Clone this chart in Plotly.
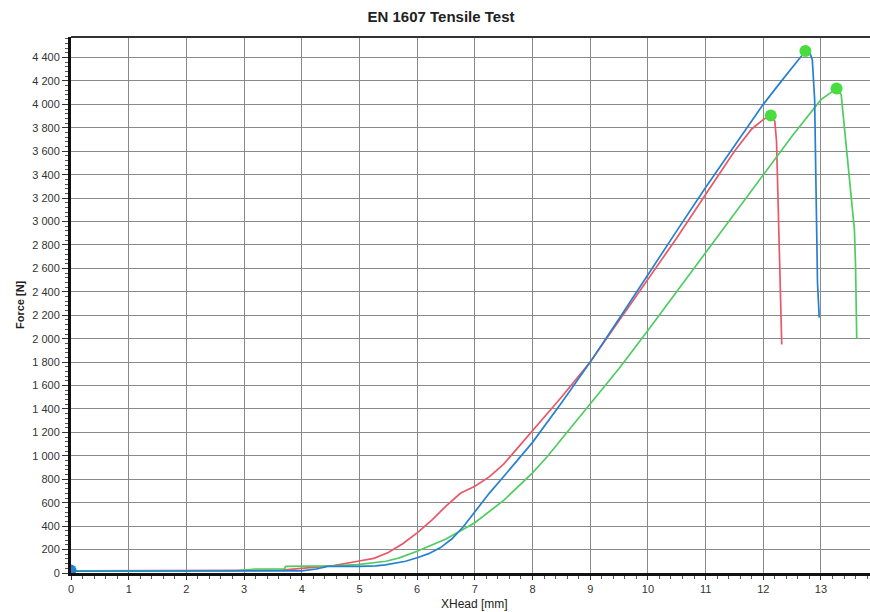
import plotly.graph_objects as go

# ---- data ----
red_x = [0, 1, 2, 3, 3.65, 4.0, 4.55, 4.97, 5.25, 5.5, 5.75, 6.0, 6.25, 6.5, 6.75, 7.0, 7.25, 7.5, 7.75, 8.0,
         8.5, 9.0, 9.5, 10.0, 10.5, 11.0, 11.5, 11.8, 12.0, 12.13,
         12.2, 12.23, 12.25, 12.27, 12.28, 12.32]
red_y = [18, 18, 20, 22, 25, 40, 63, 100, 125, 175, 250, 343, 450, 571, 680, 740, 820, 929, 1070, 1215,
         1500, 1800, 2150, 2500, 2860, 3230, 3600, 3790, 3870, 3910,
         3855, 3683, 3300, 2900, 2600, 1950]

blue_x = [0, 1, 2, 3, 4, 4.25, 4.45, 5.0, 5.28, 5.45, 5.8, 6.0, 6.2, 6.4, 6.6, 6.8, 7.0, 7.25, 7.5, 8.0, 8.5, 9.0,
          9.5, 10.0, 10.5, 11.0, 11.5, 12.0, 12.3, 12.6, 12.73,
          12.80, 12.85, 12.89, 12.91, 12.92, 12.93, 12.94, 12.97]
blue_y = [15, 15, 16, 17, 18, 34, 57, 57, 60, 69, 100, 130, 165, 215, 290, 395, 520, 680, 824, 1115, 1450, 1800,
          2170, 2550, 2920, 3290, 3650, 4000, 4190, 4380, 4455,
          4450, 4380, 4045, 3490, 2930, 2710, 2480, 2180]

green_x = [0, 1, 2, 2.9, 3.2, 3.7, 3.72, 4.0, 4.55, 4.97, 5.46, 5.69, 6.0, 6.5, 7.0, 7.5, 7.75, 8.0, 8.25, 8.5, 9.0,
           9.5, 10.0, 10.5, 11.0, 11.5, 12.0, 12.5, 13.0, 13.2, 13.27,
           13.35, 13.45, 13.54, 13.58, 13.60, 13.62]
green_y = [18, 18, 19, 20, 34, 34, 57, 58, 60, 71, 100, 129, 185, 290, 429, 620, 735, 855, 990, 1140, 1444,
           1745, 2070, 2400, 2735, 3070, 3400, 3730, 4040, 4110, 4135,
           4085, 3600, 3170, 2930, 2610, 2000]

peak_x = [12.13, 12.73, 13.27]
peak_y = [3905, 4455, 4135]

origin_x = [0]
origin_y = [25]

title = "EN 1607 Tensile Test"
x_title = "XHead [mm]"
y_title = "Force [N]"

RED = "rgb(233,88,102)"
BLUE = "rgb(38,128,208)"
GREEN = "rgb(78,204,98)"
DOT = "rgb(72,220,62)"

fig = go.Figure()
fig.add_trace(go.Scatter(x=red_x, y=red_y, mode="lines", line=dict(color=RED, width=1.7), showlegend=False))
fig.add_trace(go.Scatter(x=green_x, y=green_y, mode="lines", line=dict(color=GREEN, width=1.7), showlegend=False))
fig.add_trace(go.Scatter(x=blue_x, y=blue_y, mode="lines", line=dict(color=BLUE, width=1.7), showlegend=False))
fig.add_trace(go.Scatter(x=peak_x, y=peak_y, mode="markers",
                         marker=dict(color=DOT, size=12, line=dict(width=0)), showlegend=False))
fig.add_trace(go.Scatter(x=origin_x, y=origin_y, mode="markers",
                         marker=dict(color=BLUE, size=11, line=dict(width=0)), showlegend=False))

tickfont = dict(family="Liberation Sans, Arial, sans-serif", size=11, color="#333")
gridc = "#8a8a8a"

fig.update_layout(
    width=870, height=612,
    margin=dict(l=71, r=0, t=37, b=39),
    paper_bgcolor="white", plot_bgcolor="white",
    separators=". ",
    title=dict(text="<b>" + title + "</b>", x=441 / 870, xref="container", xanchor="center",
               y=1 - 17 / 612, yref="container", yanchor="middle",
               font=dict(family="Liberation Sans, Arial, sans-serif", size=15, color="#222")),
    xaxis=dict(range=[0, 13.85], dtick=1, tick0=0, showgrid=True, gridcolor=gridc, gridwidth=1,
               zeroline=False, showline=True, linecolor="#111", linewidth=3,
               ticks="outside", ticklen=4, tickcolor="#333", tickwidth=1,
               minor=dict(dtick=0.2, ticks="outside", ticklen=3, tickcolor="#555", showgrid=False),
               tickfont=tickfont),
    yaxis=dict(range=[0, 4575], dtick=200, tick0=0, showgrid=True, gridcolor=gridc, gridwidth=1,
               zeroline=False, showline=True, linecolor="#111", linewidth=3,
               ticks="outside", ticklen=6, tickcolor="#333", tickwidth=1, tickformat=",d",
               minor=dict(dtick=40, ticks="outside", ticklen=3, tickcolor="#555", showgrid=False),
               tickfont=tickfont),
    shapes=[dict(type="line", xref="paper", yref="paper", x0=0, x1=1, y0=1, y1=1,
                 line=dict(color="#333", width=2))],
    annotations=[
        dict(text="<b>" + y_title + "</b>", xref="paper", yref="paper", x=(20 - 71) / 799, y=0.5,
             textangle=-90, showarrow=False, xanchor="center", yanchor="middle",
             font=dict(family="Liberation Sans, Arial, sans-serif", size=11, color="#222")),
        dict(text=x_title, xref="paper", yref="paper", x=(474 - 71) / 799, y=-(604 - 573) / 536,
             showarrow=False, xanchor="center", yanchor="middle",
             font=dict(family="Liberation Sans, Arial, sans-serif", size=12, color="#222")),
    ],
)

fig.write_html("out.html")
